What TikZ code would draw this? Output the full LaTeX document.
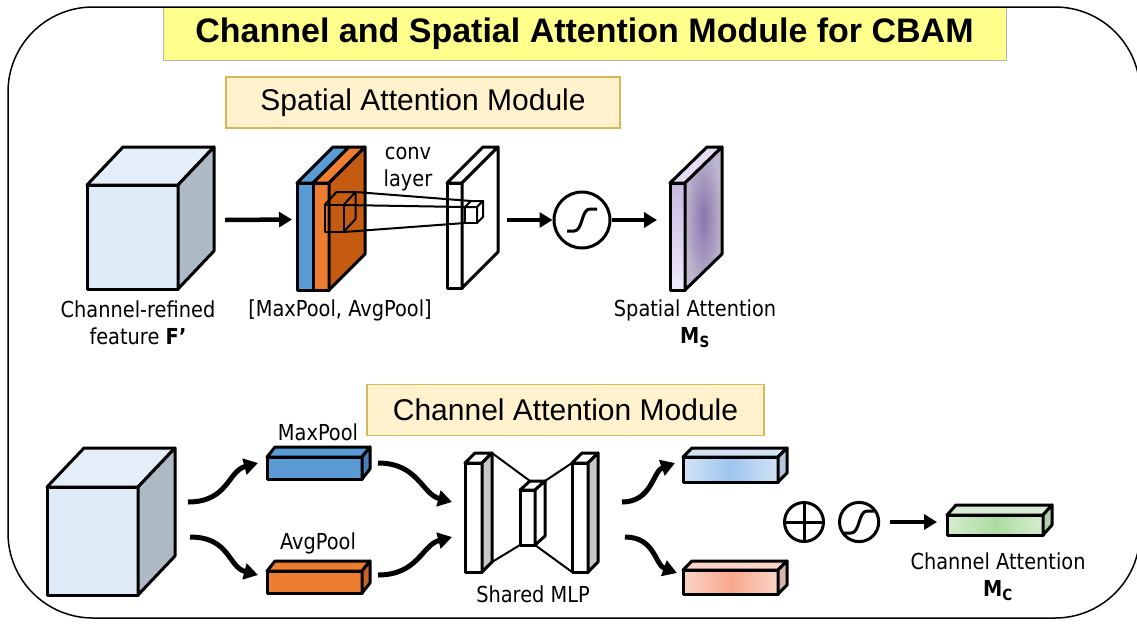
\documentclass[tikz,border=0pt]{standalone}
\usepackage{fontspec}
\setmainfont{Liberation Sans}
\newfontfamily\lblfont[FakeStretch=0.88]{DejaVu Sans}
\usetikzlibrary{arrows.meta, positioning, calc}
\definecolor{titleyellow}{RGB}{255,255,140}
\definecolor{modfill}{RGB}{255,242,204}
\definecolor{moddraw}{RGB}{214,182,86}
\definecolor{cubefront}{RGB}{222,235,247}
\definecolor{cubetop}{RGB}{228,238,248}
\definecolor{cubeside}{RGB}{173,185,197}
\definecolor{poolblue}{RGB}{91,155,213}
\definecolor{poolbluedark}{RGB}{70,128,188}
\definecolor{poolorange}{RGB}{237,125,49}
\definecolor{poolorangedark}{RGB}{200,100,40}
\definecolor{poolbrown}{RGB}{197,90,17}
\definecolor{mlpside}{RGB}{200,200,200}
\definecolor{msfronttop}{RGB}{200,184,226}
\definecolor{msfrontbot}{RGB}{240,235,250}
\definecolor{msinner}{RGB}{138,115,172}
\definecolor{msouter}{RGB}{190,182,206}
\definecolor{mstop}{RGB}{228,220,242}
\definecolor{outblue}{RGB}{212,226,246}
\definecolor{outbluemid}{RGB}{158,198,240}
\definecolor{outblueside}{RGB}{182,196,218}
\definecolor{outred}{RGB}{250,212,200}
\definecolor{outredmid}{RGB}{250,168,140}
\definecolor{outredside}{RGB}{214,180,172}
\definecolor{outgreen}{RGB}{214,236,208}
\definecolor{outgreenmid}{RGB}{172,220,160}
\definecolor{outgreenside}{RGB}{180,205,175}

\begin{document}
\begin{tikzpicture}[
        x=1pt, y=-1pt,
        face/.style={draw, line width=3pt, line join=round, inner sep=0pt, outer sep=0pt},
        arrow/.style={-{Triangle[length=13pt,width=15pt]}, line width=4.5pt},
        carrow/.style={-{Triangle[length=14pt,width=16pt]}, line width=5pt},
        modbox/.style={draw=moddraw, fill=modfill, line width=1.2pt, minimum height=51pt, font=\fontsize{30}{36}\selectfont},
        lbl/.style={font=\lblfont\fontsize{22}{27}\selectfont, align=center},
        sigm/.style={circle, draw, line width=3pt, inner sep=0pt, minimum size=#1*56pt,
            path picture={\draw[line width=3pt, shift={(path picture bounding box.center)}, scale=#1]
                (-15,11) -- (-8,11) .. controls (1,11) and (-1,-11) .. (8,-11) -- (15,-11);}},
        plus/.style={circle, draw, line width=3pt, inner sep=0pt, minimum size=39pt,
            path picture={\draw[line width=3pt] (path picture bounding box.north) -- (path picture bounding box.south)
                (path picture bounding box.west) -- (path picture bounding box.east);}}
    ]
        \useasboundingbox (0,0) rectangle (1137,625);

        % Title
        \node[fill=titleyellow, draw=gray!60, minimum width=843pt, minimum height=53pt,
              font=\bfseries\fontsize{34}{40}\selectfont] (title) at (584.5,33.5) {Channel and Spatial Attention Module for CBAM};

        % Spatial attention module
        \node[modbox, minimum width=394pt] (samod) at (423,102.5) {Spatial Attention Module};

        \node[face, fill=cubefront, minimum width=91pt, minimum height=104pt] (feat) at (132.5,237) {};
        \draw[face, fill=cubetop] (feat.north west) -- ++(36,-38) -- ++(91,0) -- (feat.north east) -- cycle;
        \draw[face, fill=cubeside] (feat.north east) -- ++(36,-38) -- ++(0,104) -- (feat.south east) -- cycle;
        \node[lbl] (featlbl) at (138,323) {Channel-refined\\feature \textbf{F’}};

        \node[face, fill=poolblue, minimum width=16pt, minimum height=107pt] (stackb) at (305,236.5) {};
        \node[face, fill=poolorange, minimum width=16pt, minimum height=107pt, right=0pt of stackb] (stacko) {};
        \draw[face, fill=poolblue] (stackb.north west) -- ++(36,-36) -- ++(16,0) -- (stackb.north east) -- cycle;
        \draw[face, fill=poolorange] (stacko.north west) -- ++(36,-36) -- ++(16,0) -- (stacko.north east) -- cycle;
        \draw[face, fill=poolbrown] (stacko.north east) -- ++(36,-36) -- ++(0,107) -- (stacko.south east) -- cycle;
        \node[lbl] (poollbl) at (340,310) {[MaxPool, AvgPool]};

        \draw[arrow] ([shift={(47,-17)}]feat.east) -- ([xshift=-5pt,yshift=17pt]stackb.west);

        \node[face, line width=2pt, minimum width=19pt, minimum height=27pt] (kern) at (334,218.5) {};
        \draw[face, line width=2pt] (kern.north west) -- ++(12,-13) -- ++(19,0) -- (kern.north east)
            ++(12,-13) -- ++(0,27) -- (kern.south east);

        \node[face, fill=white, minimum width=15pt, minimum height=105pt] (conv) at (454.5,235.5) {};
        \draw[face, fill=white] (conv.north west) -- ++(36,-36) -- ++(15,0) -- (conv.north east) -- cycle;
        \draw[face, fill=white] (conv.north east) -- ++(36,-36) -- ++(0,105) -- (conv.south east) -- cycle;
        \node[lbl] (convlbl) at (408,169) {conv\\layer};

        \node[face, line width=2pt, fill=white, minimum width=12pt, minimum height=16pt] (kern2) at (471,215) {};
        \draw[face, line width=2pt, fill=white] (kern2.north west) -- ++(6,-6) -- ++(12,0) -- (kern2.north east) -- cycle;
        \draw[face, line width=2pt, fill=white] (kern2.north east) -- ++(6,-6) -- ++(0,16) -- (kern2.south east) -- cycle;
        \draw[line width=2pt] ([shift={(12,-13)}]kern.north east) -- ([shift={(6,-6)}]kern2.north west);
        \draw[line width=2pt] (kern.north east) -- (kern2.north west);
        \draw[line width=2pt] (kern.south east) -- (kern2.south west);

        \node[sigm=1] (sig1) at (582,220) {};
        \draw[arrow] ([xshift=45pt]conv.east |- sig1.west) -- (sig1);

        \node[face, top color=msfronttop, bottom color=msfrontbot, minimum width=15pt, minimum height=107pt] (ms) at (677.5,236.5) {};
        \draw[face, fill=mstop] (ms.north west) -- ++(37,-36) -- ++(15,0) -- (ms.north east) -- cycle;
        \draw[face, inner color=msinner, outer color=msouter] (ms.north east) -- ++(37,-36) -- ++(0,107) -- (ms.south east) -- cycle;
        \draw[arrow, shorten >=13pt] (sig1) -- (sig1 -| ms.west);
        \node[lbl] (mslbl) at (695,324) {Spatial Attention\\\textbf{M}\textsubscript{\textbf{S}}};

        % Channel attention module
        \node[modbox, minimum width=397pt] (camod) at (565.5,410) {Channel Attention Module};

        \node[face, fill=cubefront, minimum width=91pt, minimum height=108pt] (cube) at (92.5,541) {};
        \draw[face, fill=cubetop] (cube.north west) -- ++(37,-39) -- ++(91,0) -- (cube.north east) -- cycle;
        \draw[face, fill=cubeside] (cube.north east) -- ++(37,-39) -- ++(0,108) -- (cube.south east) -- cycle;

        \node[face, fill=poolblue, minimum width=95pt, minimum height=22pt] (mp) at (314.5,468) {};
        \draw[face, fill=poolblue] (mp.north west) -- ++(8,-10) -- ++(95,0) -- (mp.north east) -- cycle;
        \draw[face, fill=poolbluedark] (mp.north east) -- ++(8,-10) -- ++(0,22) -- (mp.south east) -- cycle;
        \node[lbl] (mplbl) at (318,432) {MaxPool};

        \node[face, fill=poolorange, minimum width=95pt, minimum height=22pt] (ap) at (314.5,582) {};
        \draw[face, fill=poolorange] (ap.north west) -- ++(8,-10) -- ++(95,0) -- (ap.north east) -- cycle;
        \draw[face, fill=poolorangedark] (ap.north east) -- ++(8,-10) -- ++(0,22) -- (ap.south east) -- cycle;
        \node[lbl] (aplbl) at (318,543) {AvgPool};

        \draw[carrow] ([shift={(50,-39)}]cube.east) .. controls +(40,0) and +(-30,8) .. ([shift={(-9,-5)}]mp.west);
        \draw[carrow] ([shift={(52,-4)}]cube.east) .. controls +(40,0) and +(-30,-8) .. ([shift={(-9,-7)}]ap.west);

        % shared MLP
        \node[face, fill=white, minimum width=17pt, minimum height=109pt] (mlpL) at (473.5,517.5) {};
        \draw[face, fill=white] (mlpL.north west) -- ++(10,-10) -- ++(17,0) -- (mlpL.north east) -- cycle;
        \draw[face, fill=mlpside] (mlpL.north east) -- ++(10,-10) -- ++(0,109) -- (mlpL.south east) -- cycle;
        \node[face, fill=white, minimum width=15pt, minimum height=55pt] (mlpM) at (527.5,517.5) {};
        \draw[face, fill=white] (mlpM.north west) -- ++(10,-9) -- ++(15,0) -- (mlpM.north east) -- cycle;
        \draw[face, fill=white] (mlpM.north east) -- ++(10,-9) -- ++(0,55) -- (mlpM.south east) -- cycle;
        \node[face, fill=white, minimum width=16pt, minimum height=109pt] (mlpR) at (580,517.5) {};
        \draw[face, fill=white] (mlpR.north west) -- ++(10,-10) -- ++(16,0) -- (mlpR.north east) -- cycle;
        \draw[face, fill=mlpside] (mlpR.north east) -- ++(10,-10) -- ++(0,109) -- (mlpR.south east) -- cycle;
        \draw[line width=2pt] ([shift={(10,-10)}]mlpL.north east) -- ([shift={(10,-9)}]mlpM.north west);
        \draw[line width=2pt] ([shift={(10,-9)}]mlpM.north east) -- (mlpR.north west);
        \draw[line width=2pt] ([shift={(10,-10)}]mlpL.south east) -- (mlpM.south west);
        \draw[line width=2pt] (mlpM.south east) -- (mlpR.south west);
        \node[lbl] (mlplbl) at (533,594) {Shared MLP};

        \draw[carrow] ([shift={(16,-5)}]mp.east) .. controls +(40,0) and +(-30,-8) .. ([shift={(-13,-15.5)}]mlpL.west);
        \draw[carrow] ([shift={(16,-7)}]ap.east) .. controls +(40,0) and +(-30,8) .. ([shift={(-13,19.5)}]mlpL.west);

        % outputs
        \node[face, left color=outblue, right color=outblue, middle color=outbluemid, minimum width=95pt, minimum height=25pt] (ob) at (730.5,469.5) {};
        \draw[face, fill=outblue] (ob.north west) -- ++(9,-9) -- ++(95,0) -- (ob.north east) -- cycle;
        \draw[face, fill=outblueside] (ob.north east) -- ++(9,-9) -- ++(0,25) -- (ob.south east) -- cycle;
        \node[face, left color=outred, right color=outred, middle color=outredmid, minimum width=95pt, minimum height=24pt] (oo) at (730.5,582) {};
        \draw[face, fill=outred] (oo.north west) -- ++(9,-9) -- ++(95,0) -- (oo.north east) -- cycle;
        \draw[face, fill=outredside] (oo.north east) -- ++(9,-9) -- ++(0,24) -- (oo.south east) -- cycle;

        \draw[carrow] ([shift={(34,-15.5)}]mlpR.east) .. controls +(30,0) and +(-22,8) .. ([shift={(-8,-6.5)}]ob.west);
        \draw[carrow] ([shift={(37,19.5)}]mlpR.east) .. controls +(30,0) and +(-22,-8) .. ([shift={(-6,-9)}]oo.west);

        \node[plus] (sum) at (804,522) {};
        \node[sigm=0.7, right=13pt of sum] (sig2) {};

        \node[face, left color=outgreen, right color=outgreen, middle color=outgreenmid, minimum width=96pt, minimum height=20pt] (mc) at (995,525) {};
        \draw[face, fill=outgreen] (mc.north west) -- ++(9,-10) -- ++(96,0) -- (mc.north east) -- cycle;
        \draw[face, fill=outgreenside] (mc.north east) -- ++(9,-10) -- ++(0,20) -- (mc.south east) -- cycle;
        \draw[arrow, shorten <=10pt, shorten >=10pt] (sig2) -- (sig2 -| mc.west);
        \node[lbl] (mclbl) at (998,577) {Channel Attention\\\textbf{M}\textsubscript{\textbf{C}}};

        % frame
        \draw[line width=1.5pt, rounded corners=85pt] (8,7) rectangle (1140,618);

    \end{tikzpicture}
\end{document}
